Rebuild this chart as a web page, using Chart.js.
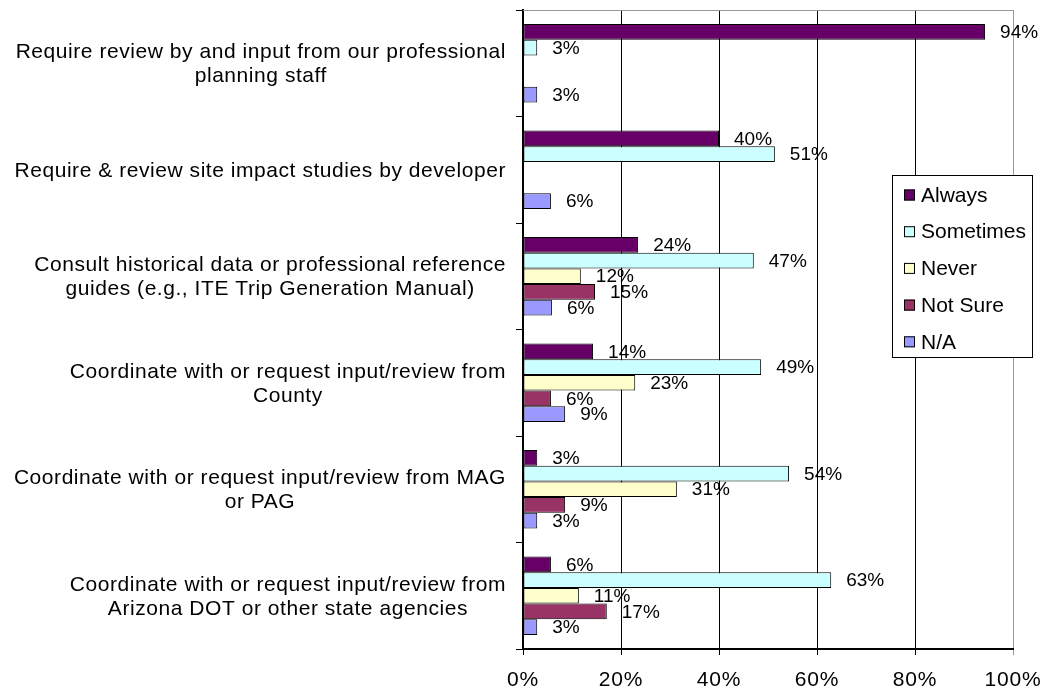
<!DOCTYPE html>
<html>
<head>
<meta charset="utf-8">
<script src="https://cdn.jsdelivr.net/npm/chart.js@4.4.0/dist/chart.umd.min.js"></script>
<style>
  html, body { margin: 0; padding: 0; background: #fff; }
  #wrap { width: 1046px; height: 692px; }
</style>
</head>
<body>
<div id="wrap"><canvas id="surveyChart" width="1046" height="692"></canvas></div>
<script>
// Categories (wrapped the way the original shows them)
const categories = [
  ['Require review by and input from our professional', 'planning staff'],
  ['Require & review site impact studies by developer'],
  ['Consult historical data or professional reference', 'guides (e.g., ITE Trip Generation Manual)'],
  ['Coordinate with or request input/review from', 'County'],
  ['Coordinate with or request input/review from MAG', 'or PAG'],
  ['Coordinate with or request input/review from', 'Arizona DOT or other state agencies']
];

const seriesNames = ['Always', 'Sometimes', 'Never', 'Not Sure', 'N/A'];
const seriesColors = ['#660066', '#CCFFFF', '#FFFFCC', '#993366', '#9999FF'];

// Percent values
const always    = [94.3, 40.0, 23.5, 14.3, 2.9, 5.7];
const sometimes = [2.9, 51.4, 47.1, 48.6, 54.3, 62.9];
const never     = [null, null, 11.8, 22.9, 31.4, 11.4];
const notSure   = [null, null, 14.7, 5.7, 8.6, 17.1];
const na        = [2.9, 5.7, 5.9, 8.6, 2.9, 2.9];

const xTicks = [0, 20, 40, 60, 80, 100];

const FAMILY = '"Liberation Sans", Arial, sans-serif';
const seriesData = [always, sometimes, never, notSure, na];

// Excel-like slightly wide tick text
const spacingPlugin = {
  id: 'spacing',
  beforeUpdate(chart) { chart.ctx.letterSpacing = '0.8px'; },
  beforeDraw(chart) { chart.ctx.letterSpacing = '0.8px'; }
};

// Gray plot border along the top
const topBorderPlugin = {
  id: 'topBorder',
  beforeDatasetsDraw(chart) {
    const a = chart.chartArea;
    const ctx = chart.ctx;
    ctx.save();
    ctx.strokeStyle = '#999999';
    ctx.lineWidth = 1;
    ctx.beginPath();
    ctx.moveTo(a.left, a.top + 0.5);
    ctx.lineTo(a.right, a.top + 0.5);
    ctx.stroke();
    ctx.restore();
  }
};

// Category labels: centered lines, right edge against the axis
const catLabelPlugin = {
  id: 'catLabels',
  afterDraw(chart) {
    const ctx = chart.ctx;
    const yScale = chart.scales.y;
    ctx.save();
    ctx.letterSpacing = '0.55px';
    ctx.font = '21px ' + FAMILY;
    ctx.fillStyle = '#000';
    ctx.textAlign = 'center';
    ctx.textBaseline = 'middle';
    const rightEdge = yScale.right - 17;
    const lineH = 24;
    categories.forEach((lines, i) => {
      const cy = yScale.getPixelForTick(i);
      const maxW = Math.max(...lines.map(l => ctx.measureText(l).width));
      const cx = rightEdge - maxW / 2;
      lines.forEach((l, j) => {
        const y = cy + (j - (lines.length - 1) / 2) * lineH;
        ctx.fillText(l, cx, y + 1);
      });
    });
    ctx.restore();
  }
};

// Value labels at the end of each bar
const valueLabelPlugin = {
  id: 'valueLabels',
  afterDatasetsDraw(chart) {
    const ctx = chart.ctx;
    ctx.save();
    ctx.letterSpacing = '0px';
    ctx.font = '19px ' + FAMILY;
    ctx.fillStyle = '#000';
    ctx.textAlign = 'left';
    ctx.textBaseline = 'middle';
    chart.data.datasets.forEach((ds, di) => {
      const meta = chart.getDatasetMeta(di);
      meta.data.forEach((bar, i) => {
        const v = ds.data[i];
        if (v === null || v === undefined) return;
        ctx.fillText(Math.round(v) + '%', bar.x + 15, bar.y + 1);
      });
    });
    ctx.restore();
  }
};

// Boxed legend floating over the plot
const legendBoxPlugin = {
  id: 'legendBox',
  afterDraw(chart) {
    const ctx = chart.ctx;
    const box = { left: 892, top: 175, width: 141, height: 183 };
    ctx.save();
    ctx.fillStyle = '#fff';
    ctx.fillRect(box.left, box.top, box.width, box.height);
    ctx.strokeStyle = '#000';
    ctx.lineWidth = 1;
    ctx.strokeRect(box.left + 0.5, box.top + 0.5, box.width - 1, box.height - 1);
    ctx.letterSpacing = '0px';
    ctx.font = '21px ' + FAMILY;
    ctx.textAlign = 'left';
    ctx.textBaseline = 'middle';
    seriesNames.forEach((name, i) => {
      const cy = box.top + 20 + i * 36.7;
      ctx.fillStyle = seriesColors[i];
      ctx.fillRect(box.left + 12, cy - 5.5, 11, 11);
      ctx.strokeStyle = '#000';
      ctx.strokeRect(box.left + 12.5, cy - 5, 10, 10);
      ctx.fillStyle = '#000';
      ctx.fillText(name, box.left + 29, cy + 1);
    });
    ctx.restore();
  }
};

const datasets = seriesNames.map((name, i) => ({
  label: name,
  data: seriesData[i],
  backgroundColor: seriesColors[i],
  borderColor: '#000',
  borderWidth: 1,
  borderSkipped: false,
  categoryPercentage: 0.735,
  barPercentage: 1.0
}));

new Chart(document.getElementById('surveyChart').getContext('2d'), {
  type: 'bar',
  data: {
    labels: categories,
    datasets: datasets
  },
  options: {
    indexAxis: 'y',
    responsive: false,
    animation: false,
    devicePixelRatio: 1,
    layout: { padding: { left: 0, right: 33, top: 10, bottom: 0 } },
    plugins: {
      legend: { display: false },
      tooltip: { enabled: false }
    },
    scales: {
      x: {
        min: 0,
        max: 100,
        afterBuildTicks: s => { s.ticks = xTicks.map(v => ({ value: v })); },
        afterFit: s => {
          s.height = 43;
          s.paddingLeft = 0;
          s.paddingRight = 0;
        },
        ticks: {
          callback: v => v + '%',
          color: '#000',
          font: { family: FAMILY, size: 21 },
          padding: 13,
          maxRotation: 0
        },
        grid: {
          color: c => (c.tick && c.tick.value === 100) ? '#999999' : '#000',
          lineWidth: 1,
          tickLength: 6
        },
        border: { display: true, color: '#000', width: 2 }
      },
      y: {
        afterFit: s => { s.width = 523; },
        ticks: { display: false },
        grid: {
          display: true,
          offset: true,
          drawOnChartArea: false,
          tickLength: 7,
          color: '#000',
          lineWidth: 1
        },
        border: { display: true, color: '#000', width: 2 }
      }
    }
  },
  plugins: [spacingPlugin, topBorderPlugin, valueLabelPlugin, catLabelPlugin, legendBoxPlugin]
});
</script>
</body>
</html>
